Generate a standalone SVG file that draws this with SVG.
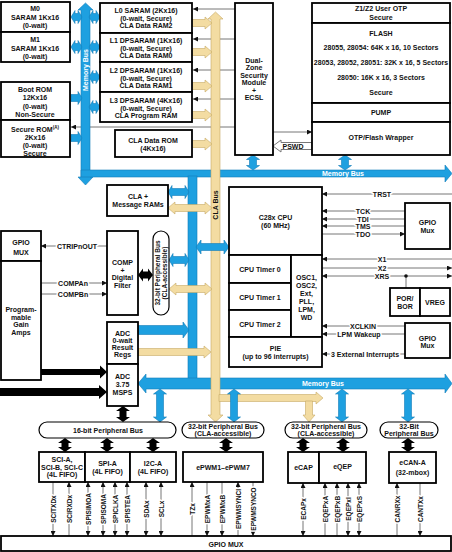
<svg xmlns="http://www.w3.org/2000/svg" width="452" height="552" viewBox="0 0 452 552">
<style>
.box{fill:#fff;stroke:#000;stroke-width:1.8}
.ov{fill:#fff;stroke:#000;stroke-width:1.2}
.t{font-family:"Liberation Sans",Arial,sans-serif;font-size:7px;font-weight:bold;text-anchor:middle;dominant-baseline:central;fill:#111}
.vs{font-size:6.5px}
.w{fill:#fff}
.halo{paint-order:stroke;stroke:#fff;stroke-width:3;stroke-linejoin:round}
.blue{fill:#1ea0e0;stroke:#137cb8;stroke-width:0.6}
.yel{fill:#f3dca2;stroke:#c6a964;stroke-width:0.6}
.blk{fill:#000}
.sig{stroke:#777;stroke-width:1;fill:none}
</style>
<defs>
<marker id="ah" viewBox="0 0 6 6" refX="6" refY="3" markerWidth="5" markerHeight="5" markerUnits="userSpaceOnUse" orient="auto-start-reverse"><path d="M0,0L6,3L0,6z" fill="#111"/></marker>
</defs>
<rect width="452" height="552" fill="#fff"/>

<g id="connectors">
  <line class="sig" x1="235" y1="9" x2="193" y2="9" marker-end="url(#ah)"/>
  <line class="sig" x1="235" y1="39" x2="193" y2="39" marker-end="url(#ah)"/>
  <line class="sig" x1="235" y1="70" x2="193" y2="70" marker-end="url(#ah)"/>
  <line class="sig" x1="235" y1="99" x2="193" y2="99" marker-end="url(#ah)"/>
  <line class="sig" x1="235" y1="127" x2="71" y2="127" marker-end="url(#ah)"/>
  <line class="sig" x1="273" y1="132" x2="312" y2="132" marker-end="url(#ah)"/>
  <polygon points="273,146 281,140 281,142.5 312,142.5 312,149.5 281,149.5 281,152" fill="#fff" stroke="#777" stroke-width="1"/>
  <text class="t" x="293" y="146">PSWD</text>

  <polygon class="blue" points="85.5,3 93,10 90,10 90,177 93,177 85.5,185 78,177 81,177 81,10 78,10"/>
  <polygon class="blue" points="81,170 445,170 445,165 452,173.5 445,182 445,177 81,177"/>
  <rect class="blue" x="188" y="176" width="9" height="203"/>
  <polygon class="blue" points="138,383.5 146,374 146,378 445,378 445,374 452,383.5 445,393 445,389 146,389 146,393"/>
  <text class="t w" transform="rotate(-90 85.5 70)" x="85.5" y="70">Memory Bus</text>
  <text class="t w" x="343" y="173.5">Memory Bus</text>
  <text class="t w" x="323" y="383.5">Memory Bus</text>

  <polygon class="blue" points="71,17 75,10.5 75,13.5 78,13.5 78,10.5 82,17 78,23.5 78,20.5 75,20.5 75,23.5"/>
  <polygon class="blue" points="71,47 75,40.5 75,43.5 78,43.5 78,40.5 82,47 78,53.5 78,50.5 75,50.5 75,53.5"/>
  <polygon class="blue" points="71,94.5 78,94.5 78,91.5 82,98 78,104.5 78,101.5 71,101.5"/>
  <polygon class="blue" points="71,134.5 78,134.5 78,131.5 82,138 78,144.5 78,141.5 71,141.5"/>
  <polygon class="blue" points="89,17 93,10.5 93,13.5 96,13.5 96,10.5 100,17 96,23.5 96,20.5 93,20.5 93,23.5"/>
  <polygon class="blue" points="89,47 93,40.5 93,43.5 96,43.5 96,40.5 100,47 96,53.5 96,50.5 93,50.5 93,53.5"/>
  <polygon class="blue" points="89,77 93,70.5 93,73.5 96,73.5 96,70.5 100,77 96,83.5 96,80.5 93,80.5 93,83.5"/>
  <polygon class="blue" points="89,107 93,100.5 93,103.5 96,103.5 96,100.5 100,107 96,113.5 96,110.5 93,110.5 93,113.5"/>
  <polygon class="blue" points="253,155 259.5,159.5 256.5,159.5 256.5,165.5 259.5,165.5 253,170 246.5,165.5 249.5,165.5 249.5,159.5 246.5,159.5"/>
  <polygon class="blue" points="345,155 351.5,159.5 348.5,159.5 348.5,165.5 351.5,165.5 345,170 338.5,165.5 341.5,165.5 341.5,159.5 338.5,159.5"/>
  <polygon class="blue" points="168,192 172,185.5 172,188.5 185,188.5 185,185.5 189,192 185,198.5 185,195.5 172,195.5 172,198.5"/>
  <polygon class="blue" points="169,260 173,253.5 173,256.5 185,256.5 185,253.5 189,260 185,266.5 185,263.5 173,263.5 173,266.5"/>
  <polygon class="blue" points="138,325.5 183,325.5 183,322 189,330 183,338 183,334.5 138,334.5"/>
  <polygon class="blue" points="160,389 166.5,394 163.5,394 163.5,417 166.5,417 160,422 153.5,417 156.5,417 156.5,394 153.5,394"/>
  <polygon class="blue" points="342,389 348.5,394 345.5,394 345.5,417 348.5,417 342,422 335.5,417 338.5,417 338.5,394 335.5,394"/>
  <polygon class="blue" points="408,389 414.5,394 411.5,394 411.5,417 414.5,417 408,422 401.5,417 404.5,417 404.5,394 401.5,394"/>

  <polygon class="yel" points="215.5,12 223,19 220,19 220,415 223,415 215.5,422 208,415 211,415 211,19 208,19"/>
  <polygon class="yel" points="192,19.5 205,19.5 205,17 212,23 205,29 205,26.5 192,26.5"/>
  <polygon class="yel" points="192,48.5 205,48.5 205,46 212,52 205,58 205,55.5 192,55.5"/>
  <polygon class="yel" points="192,82.5 205,82.5 205,80 212,86 205,92 205,89.5 192,89.5"/>
  <polygon class="yel" points="192,111.5 205,111.5 205,109 212,115 205,121 205,118.5 192,118.5"/>
  <polygon class="yel" points="192,140.5 205,140.5 205,138 212,144 205,150 205,147.5 192,147.5"/>
  <polygon class="yel" points="168,208 175,202 175,204.5 205,204.5 205,202 212,208 205,214 205,211.5 175,211.5 175,214"/>
  <polygon class="yel" points="169,289 176,283 176,285.5 205,285.5 205,283 212,289 205,295 205,292.5 176,292.5 176,295"/>
  <polygon class="yel" points="138,348.5 204,348.5 204,346 211,352 204,358 204,355.5 138,355.5"/>
  <polygon class="yel" points="219,394.5 316,394.5 316,392 323,398 316,404 316,401.5 219,401.5"/>
  <polygon class="yel" points="305.5,401 312.5,401 312.5,415 315,415 309,422 303,415 305.5,415"/>
  <text class="t" fill="#333" transform="rotate(-90 215.5 205)" x="215.5" y="205">CLA Bus</text>

  <polygon class="blue" points="196,247 201,240 201,243.5 224,243.5 224,240 229,247 224,254 224,250.5 201,250.5 201,254"/>
  <polygon class="blue" points="234,389 240.5,394 237.5,394 237.5,417 240.5,417 234,422 227.5,417 230.5,417 230.5,394 227.5,394"/>

  <polygon class="blk" points="138,275 143,268.5 143,271.5 148,271.5 148,268.5 153,275 148,281.5 148,278.5 143,278.5 143,281.5"/>
  <polygon class="blk" points="41,369 100,369 100,365.5 107,372 100,378.5 100,375 41,375"/>
  <polygon class="blk" points="0,388 99,388 99,385 107,392 99,399 99,396 0,396"/>
  <polygon class="blk" points="123,406 130,411 126.5,411 126.5,417 130,417 123,422 116,417 119.5,417 119.5,411 116,411"/>
  <polygon class="blk" points="65,438 72,443 68.5,443 68.5,447 72,447 65,452 58,447 61.5,447 61.5,443 58,443"/>
  <polygon class="blk" points="107,438 114,443 110.5,443 110.5,447 114,447 107,452 100,447 103.5,447 103.5,443 100,443"/>
  <polygon class="blk" points="153,438 160,443 156.5,443 156.5,447 160,447 153,452 146,447 149.5,447 149.5,443 146,443"/>
  <polygon class="blk" points="226,438 233,443 229.5,443 229.5,447 233,447 226,452 219,447 222.5,447 222.5,443 219,443"/>
  <polygon class="blk" points="303,438 310,443 306.5,443 306.5,447 310,447 303,452 296,447 299.5,447 299.5,443 296,443"/>
  <polygon class="blk" points="343,438 350,443 346.5,443 346.5,447 350,447 343,452 336,447 339.5,447 339.5,443 336,443"/>
  <polygon class="blk" points="408,438 415,443 411.5,443 411.5,447 415,447 408,452 401,447 404.5,447 404.5,443 401,443"/>

  <line class="sig" x1="452" y1="194" x2="322" y2="194" marker-end="url(#ah)"/>
  <text class="t halo" x="382" y="194">TRST</text>
  <line class="sig" x1="405" y1="211" x2="322" y2="211" marker-end="url(#ah)"/>
  <text class="t halo" x="363" y="211">TCK</text>
  <line class="sig" x1="405" y1="219" x2="322" y2="219" marker-end="url(#ah)"/>
  <text class="t halo" x="363" y="219">TDI</text>
  <line class="sig" x1="405" y1="226" x2="322" y2="226" marker-end="url(#ah)"/>
  <text class="t halo" x="363" y="226">TMS</text>
  <line class="sig" x1="322" y1="234" x2="405" y2="234" marker-end="url(#ah)"/>
  <text class="t halo" x="363" y="234">TDO</text>
  <line class="sig" x1="452" y1="259" x2="322" y2="259" marker-end="url(#ah)"/>
  <text class="t halo" x="382" y="259">X1</text>
  <line class="sig" x1="322" y1="268" x2="452" y2="268" marker-end="url(#ah)"/>
  <text class="t halo" x="382" y="268">X2</text>
  <line class="sig" x1="322" y1="276" x2="452" y2="276" marker-start="url(#ah)" marker-end="url(#ah)"/>
  <text class="t halo" x="382" y="276">XRS</text>
  <line class="sig" x1="406" y1="276" x2="406" y2="288"/>
  <circle cx="406" cy="276" r="1.8" fill="#111"/>
  <line class="sig" x1="405" y1="326" x2="322" y2="326" marker-end="url(#ah)"/>
  <text class="t halo" x="363" y="326">XCLKIN</text>
  <line class="sig" x1="405" y1="334" x2="322" y2="334" marker-end="url(#ah)"/>
  <text class="t halo" x="359" y="334">LPM Wakeup</text>
  <line class="sig" x1="405" y1="354" x2="322" y2="354" marker-end="url(#ah)"/>
  <text class="t halo" x="365" y="354">3 External Interrupts</text>

  <line class="sig" x1="107" y1="246" x2="41" y2="246" marker-end="url(#ah)"/>
  <text class="t halo" x="77" y="246">CTRIPnOUT</text>
  <line class="sig" x1="41" y1="283" x2="107" y2="283" marker-end="url(#ah)"/>
  <text class="t halo" x="73" y="283">COMPAn</text>
  <line class="sig" x1="41" y1="294" x2="107" y2="294" marker-end="url(#ah)"/>
  <text class="t halo" x="73" y="294">COMPBn</text>

  <line class="sig" x1="53" y1="482" x2="53" y2="536" marker-end="url(#ah)"/>
  <text class="t vs halo" transform="rotate(-90 53 509)" x="53" y="509">SCITXDx</text>
  <line class="sig" x1="69" y1="482" x2="69" y2="536" marker-start="url(#ah)"/>
  <text class="t vs halo" transform="rotate(-90 69 509)" x="69" y="509">SCIRXDx</text>
  <line class="sig" x1="88" y1="482" x2="88" y2="536" marker-start="url(#ah)" marker-end="url(#ah)"/>
  <text class="t vs halo" transform="rotate(-90 88 509)" x="88" y="509">SPISIMOA</text>
  <line class="sig" x1="103" y1="482" x2="103" y2="536" marker-start="url(#ah)" marker-end="url(#ah)"/>
  <text class="t vs halo" transform="rotate(-90 103 509)" x="103" y="509">SPISOMA</text>
  <line class="sig" x1="115" y1="482" x2="115" y2="536" marker-start="url(#ah)" marker-end="url(#ah)"/>
  <text class="t vs halo" transform="rotate(-90 115 509)" x="115" y="509">SPICLKA</text>
  <line class="sig" x1="127" y1="482" x2="127" y2="536" marker-start="url(#ah)" marker-end="url(#ah)"/>
  <text class="t vs halo" transform="rotate(-90 127 509)" x="127" y="509">SPISTEA</text>
  <line class="sig" x1="146" y1="482" x2="146" y2="536" marker-start="url(#ah)" marker-end="url(#ah)"/>
  <text class="t vs halo" transform="rotate(-90 146 509)" x="146" y="509">SDAx</text>
  <line class="sig" x1="161" y1="482" x2="161" y2="536" marker-start="url(#ah)" marker-end="url(#ah)"/>
  <text class="t vs halo" transform="rotate(-90 161 509)" x="161" y="509">SCLx</text>
  <line class="sig" x1="192" y1="482" x2="192" y2="536" marker-start="url(#ah)"/>
  <text class="t vs halo" transform="rotate(-90 192 509)" x="192" y="509">TZx</text>
  <line class="sig" x1="207" y1="482" x2="207" y2="536" marker-end="url(#ah)"/>
  <text class="t vs halo" transform="rotate(-90 207 509)" x="207" y="509">EPWMxA</text>
  <line class="sig" x1="222" y1="482" x2="222" y2="536" marker-end="url(#ah)"/>
  <text class="t vs halo" transform="rotate(-90 222 509)" x="222" y="509">EPWMxB</text>
  <line class="sig" x1="238" y1="482" x2="238" y2="536" marker-start="url(#ah)"/>
  <text class="t vs halo" transform="rotate(-90 238 509)" x="238" y="509">EPWMSYNCI</text>
  <line class="sig" x1="253" y1="482" x2="253" y2="536" marker-end="url(#ah)"/>
  <text class="t vs halo" transform="rotate(-90 253 509)" x="253" y="509">EPWMSYNCO</text>
  <line class="sig" x1="303" y1="483" x2="303" y2="536" marker-start="url(#ah)" marker-end="url(#ah)"/>
  <text class="t vs halo" transform="rotate(-90 303 509)" x="303" y="509">ECAPx</text>
  <line class="sig" x1="325" y1="483" x2="325" y2="536" marker-start="url(#ah)"/>
  <text class="t vs halo" transform="rotate(-90 325 509)" x="325" y="509">EQEPxA</text>
  <line class="sig" x1="337" y1="483" x2="337" y2="536" marker-start="url(#ah)"/>
  <text class="t vs halo" transform="rotate(-90 337 509)" x="337" y="509">EQEPxB</text>
  <line class="sig" x1="348" y1="483" x2="348" y2="536" marker-start="url(#ah)" marker-end="url(#ah)"/>
  <text class="t vs halo" transform="rotate(-90 348 509)" x="348" y="509">EQEPxI</text>
  <line class="sig" x1="359" y1="483" x2="359" y2="536" marker-start="url(#ah)" marker-end="url(#ah)"/>
  <text class="t vs halo" transform="rotate(-90 359 509)" x="359" y="509">EQEPxS</text>
  <line class="sig" x1="397" y1="483" x2="397" y2="536" marker-start="url(#ah)"/>
  <text class="t vs halo" transform="rotate(-90 397 509)" x="397" y="509">CANRXx</text>
  <line class="sig" x1="420" y1="483" x2="420" y2="536" marker-end="url(#ah)"/>
  <text class="t vs halo" transform="rotate(-90 420 509)" x="420" y="509">CANTXx</text>
</g>

<g id="m0"><rect class="box" x="1" y="2" width="69" height="30"/><text class="t" x="35" y="8.5">M0</text><text class="t" x="35" y="17">SARAM 1Kx16</text><text class="t" x="35" y="25">(0-wait)</text></g>
<g id="m1"><rect class="box" x="1" y="32" width="69" height="30"/><text class="t" x="35" y="39.5">M1</text><text class="t" x="35" y="48">SARAM 1Kx16</text><text class="t" x="35" y="56">(0-wait)</text></g>
<g id="bootrom"><rect class="box" x="1" y="82" width="69" height="38"/><text class="t" x="35" y="89">Boot ROM</text><text class="t" x="35" y="97.5">12Kx16</text><text class="t" x="35" y="106">(0-wait)</text><text class="t" x="35" y="114">Non-Secure</text></g>
<g id="securerom"><rect class="box" x="1" y="120" width="69" height="37"/><text class="t" x="35" y="129">Secure ROM<tspan font-size="4.5" dy="-2.5">(A)</tspan></text><text class="t" x="35" y="137">2Kx16</text><text class="t" x="35" y="145">(0-wait)</text><text class="t" x="35" y="153">Secure</text></g>

<g id="l0"><rect class="box" x="100" y="3" width="92" height="30"/><text class="t" x="146" y="10">L0 SARAM (2Kx16)</text><text class="t" x="146" y="18">(0-wait, Secure)</text><text class="t" x="146" y="25.5">CLA Data RAM2</text></g>
<g id="l1"><rect class="box" x="100" y="33" width="92" height="29"/><text class="t" x="146" y="40">L1 DPSARAM (1Kx16)</text><text class="t" x="146" y="48">(0-wait, Secure)</text><text class="t" x="146" y="55">CLA Data RAM0</text></g>
<g id="l2"><rect class="box" x="100" y="62" width="92" height="30"/><text class="t" x="146" y="70">L2 DPSARAM (1Kx16)</text><text class="t" x="146" y="78">(0-wait, Secure)</text><text class="t" x="146" y="85.5">CLA Data RAM1</text></g>
<g id="l3"><rect class="box" x="100" y="92" width="92" height="30"/><text class="t" x="146" y="100">L3 DPSARAM (4Kx16)</text><text class="t" x="146" y="108">(0-wait, Secure)</text><text class="t" x="146" y="115.5">CLA Program RAM</text></g>
<g id="cladatarom"><rect class="box" x="115" y="130" width="77" height="27"/><text class="t" x="153" y="140">CLA Data ROM</text><text class="t" x="153" y="148.5">(4Kx16)</text></g>

<g id="dcsm"><rect class="box" x="235" y="3" width="38" height="152"/><text class="t" x="254" y="60">Dual-</text><text class="t" x="254" y="67.5">Zone</text><text class="t" x="254" y="75">Security</text><text class="t" x="254" y="82.5">Module</text><text class="t" x="254" y="90">+</text><text class="t" x="254" y="97.5">ECSL</text></g>

<g id="flash">
  <rect class="box" x="312" y="3" width="138" height="20"/><text class="t" x="381" y="8.5">Z1/Z2 User OTP</text><text class="t" x="381" y="17">Secure</text>
  <rect class="box" x="312" y="23" width="138" height="80"/><text class="t" x="381" y="33">FLASH</text><text class="t" x="381" y="47.5">28055, 28054: 64K x 16, 10 Sectors</text><text class="t" x="381" y="62">28053, 28052, 28051: 32K x 16, 5 Sectors</text><text class="t" x="381" y="77">28050: 16K x 16, 3 Sectors</text><text class="t" x="381" y="92">Secure</text>
  <rect class="box" x="312" y="103" width="138" height="19"/><text class="t" x="381" y="112.5" fill="#555">PUMP</text>
  <rect class="box" x="312" y="122" width="138" height="33"/><text class="t" x="381" y="137.5">OTP/Flash Wrapper</text>
</g>

<g id="clamsg"><rect class="box" x="107" y="185" width="61" height="31"/><text class="t" x="138" y="196">CLA +</text><text class="t" x="138" y="204">Message RAMs</text></g>
<g id="gpiomux-left"><rect class="box" x="1" y="231" width="40" height="30"/><text class="t" x="21" y="242">GPIO</text><text class="t" x="21" y="252">MUX</text></g>
<g id="pga"><rect class="box" x="1" y="261" width="40" height="119"/><text class="t" x="21" y="309">Program-</text><text class="t" x="21" y="317">mable</text><text class="t" x="21" y="324.5">Gain</text><text class="t" x="21" y="332">Amps</text></g>
<g id="comp"><rect class="box" x="107" y="231" width="31" height="84"/><text class="t" x="122.5" y="262">COMP</text><text class="t" x="122.5" y="270">+</text><text class="t" x="122.5" y="277.5">Digital</text><text class="t" x="122.5" y="285">Filter</text></g>
<g id="pbus-vert"><rect class="ov" x="153" y="231" width="16" height="84" rx="8"/><text class="t vs" transform="rotate(-90 157.3 273)" x="157.3" y="273">32-bit Peripheral Bus</text><text class="t vs" transform="rotate(-90 164.3 273)" x="164.3" y="273">(CLA-accessible)</text></g>
<g id="adcres"><rect class="box" x="107" y="322" width="31" height="42"/><text class="t" x="122.5" y="333">ADC</text><text class="t" x="122.5" y="340">0-wait</text><text class="t" x="122.5" y="347">Result</text><text class="t" x="122.5" y="354">Regs</text></g>
<g id="adc"><rect class="box" x="107" y="364" width="31" height="42"/><text class="t" x="122.5" y="376">ADC</text><text class="t" x="122.5" y="384">3.75</text><text class="t" x="122.5" y="392">MSPS</text></g>

<g id="cpu">
  <rect class="box" x="229" y="187" width="93" height="68"/><text class="t" x="275.5" y="217">C28x CPU</text><text class="t" x="275.5" y="225">(60 MHz)</text>
  <rect class="box" x="229" y="255" width="62" height="28"/><text class="t" x="260" y="269">CPU Timer 0</text>
  <rect class="box" x="229" y="283" width="62" height="27"/><text class="t" x="260" y="297">CPU Timer 1</text>
  <rect class="box" x="229" y="310" width="62" height="27"/><text class="t" x="260" y="324">CPU Timer 2</text>
  <rect class="box" x="291" y="255" width="31" height="82"/><text class="t" x="306.5" y="277">OSC1,</text><text class="t" x="306.5" y="285">OSC2,</text><text class="t" x="306.5" y="293">Ext,</text><text class="t" x="306.5" y="301">PLL,</text><text class="t" x="306.5" y="309">LPM,</text><text class="t" x="306.5" y="317">WD</text>
  <rect class="box" x="229" y="337" width="93" height="30"/><text class="t" x="275.5" y="348">PIE</text><text class="t" x="275.5" y="356">(up to 96 interrupts)</text>
</g>
<g id="gpiomux-jtag"><rect class="box" x="405" y="203" width="45" height="46"/><text class="t" x="427.5" y="222">GPIO</text><text class="t" x="427.5" y="230">Mux</text></g>
<g id="porbor"><rect class="box" x="390" y="288" width="30" height="28"/><text class="t" x="405" y="298">POR/</text><text class="t" x="405" y="306">BOR</text></g>
<g id="vreg"><rect class="box" x="420" y="288" width="30" height="28"/><text class="t" x="435" y="302">VREG</text></g>
<g id="gpiomux-clk"><rect class="box" x="405" y="323" width="45" height="35"/><text class="t" x="427.5" y="338">GPIO</text><text class="t" x="427.5" y="345.5">Mux</text></g>

<g id="pbus16"><rect class="ov" x="39" y="422" width="137" height="16" rx="8"/><text class="t" x="108" y="430">16-bit Peripheral Bus</text></g>
<g id="pbus32a"><rect class="ov" x="182" y="422" width="82" height="16" rx="8"/><text class="t" x="223" y="426.5">32-bit Peripheral Bus</text><text class="t" x="223" y="433.5">(CLA-accessible)</text></g>
<g id="pbus32b"><rect class="ov" x="285" y="422" width="82" height="16" rx="8"/><text class="t" x="326" y="426.5">32-bit Peripheral Bus</text><text class="t" x="326" y="433.5">(CLA-accessible)</text></g>
<g id="pbus32c"><rect class="ov" x="380" y="422" width="58" height="16" rx="8"/><text class="t" x="409" y="426.5">32-Bit</text><text class="t" x="409" y="433.5">Peripheral Bus</text></g>

<g id="sci"><rect class="box" x="39" y="452" width="46" height="30"/><text class="t" x="62" y="459.5">SCI-A,</text><text class="t" x="62" y="467">SCI-B, SCI-C</text><text class="t" x="62" y="474.5">(4L FIFO)</text></g>
<g id="spi"><rect class="box" x="85" y="452" width="45" height="30"/><text class="t" x="107.5" y="463">SPI-A</text><text class="t" x="107.5" y="471.5">(4L FIFO)</text></g>
<g id="i2c"><rect class="box" x="130" y="452" width="46" height="30"/><text class="t" x="153" y="463">I2C-A</text><text class="t" x="153" y="471.5">(4L FIFO)</text></g>
<g id="epwm"><rect class="box" x="183" y="452" width="80" height="30"/><text class="t" x="223" y="467">ePWM1–ePWM7</text></g>
<g id="ecap"><rect class="box" x="288" y="452" width="31" height="31"/><text class="t" x="303.5" y="467">eCAP</text></g>
<g id="eqep"><rect class="box" x="319" y="452" width="47" height="31"/><text class="t" x="342.5" y="466">eQEP</text></g>
<g id="ecan"><rect class="box" x="389" y="452" width="47" height="31"/><text class="t" x="412.5" y="462">eCAN-A</text><text class="t" x="412.5" y="472">(32-mbox)</text></g>
<g id="gpiomux-bottom"><rect class="box" x="1" y="536" width="450" height="15"/><text class="t" x="226" y="544">GPIO MUX</text></g>
</svg>
